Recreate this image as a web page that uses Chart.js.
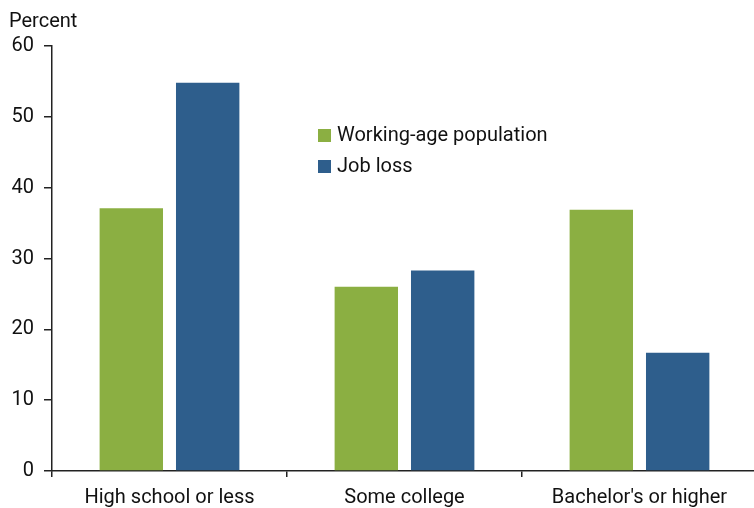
<!DOCTYPE html>
<html>
<head>
<meta charset="utf-8">
<script src="https://cdn.jsdelivr.net/npm/chart.js@4.4.1/dist/chart.umd.min.js"></script>
<style>
  html, body { margin: 0; padding: 0; background: #fff; overflow: hidden; }
  #wrap { width: 757px; height: 508px; position: relative; }
</style>
</head>
<body>
<div id="wrap"><canvas id="eduChart"></canvas></div>
<script>
// Data
const categories = ['High school or less', 'Some college', "Bachelor's or higher"];
const workingAge = [37.1, 26.0, 36.9];
const jobLoss = [54.8, 28.3, 16.7];
const yTicks = [0, 10, 20, 30, 40, 50, 60];

const GREEN = '#8BAF42';
const BLUE = '#2E5E8C';
const FONT = 'Roboto, "Liberation Sans", sans-serif';

// "Percent" label and the in-plot legend
const extras = {
    id: 'extras',
    afterDraw(chart) {
        const c = chart.ctx;
        c.save();
        c.fillStyle = '#111';
        c.font = '20px ' + FONT;
        c.textBaseline = 'alphabetic';
        c.textAlign = 'left';
        c.fillText('Percent', 9, 27);

        c.textBaseline = 'middle';
        chart.data.datasets.forEach((ds, i) => {
            const y = 135 + i * 31;
            c.fillStyle = ds.backgroundColor;
            c.fillRect(318, y - 6, 13, 13);
            c.fillStyle = '#111';
            c.fillText(ds.label, 337, y + 1);
        });
        c.restore();
    }
};

const ctx = document.getElementById('eduChart').getContext('2d');
const chart = new Chart(ctx, {
    type: 'bar',
    data: {
        labels: categories,
        datasets: [{
            label: 'Working-age population',
            data: workingAge,
            backgroundColor: GREEN,
            borderWidth: 0,
            categoryPercentage: 0.65,
            barPercentage: 0.83
        }, {
            label: 'Job loss',
            data: jobLoss,
            backgroundColor: BLUE,
            borderWidth: 0,
            categoryPercentage: 0.65,
            barPercentage: 0.83
        }]
    },
    options: {
        responsive: true,
        maintainAspectRatio: false,
        animation: false,
        layout: { padding: { top: 46, left: 0, right: 0, bottom: 0 } },
        plugins: {
            legend: { display: false },
            tooltip: { enabled: false }
        },
        scales: {
            x: {
                grid: {
                    offset: true,
                    drawOnChartArea: false,
                    drawTicks: true,
                    tickLength: 6,
                    color: '#222',
                    lineWidth: 1.5
                },
                border: { color: '#222', width: 1.5 },
                ticks: {
                    color: '#111',
                    font: { family: FONT, size: 20 },
                    padding: 9,
                    maxRotation: 0
                },
                afterFit(scale) { scale.height = 37; }
            },
            y: {
                min: 0,
                max: 60,
                afterBuildTicks(scale) {
                    scale.ticks = yTicks.map(v => ({ value: v }));
                },
                grid: {
                    drawOnChartArea: false,
                    drawTicks: true,
                    tickLength: 8,
                    color: '#222',
                    lineWidth: 1.5
                },
                border: { color: '#222', width: 1.5 },
                ticks: {
                    color: '#111',
                    font: { family: FONT, size: 20 },
                    padding: 10
                },
                afterFit(scale) { scale.width = 52; }
            }
        }
    },
    plugins: [extras]
});
</script>
</body>
</html>
